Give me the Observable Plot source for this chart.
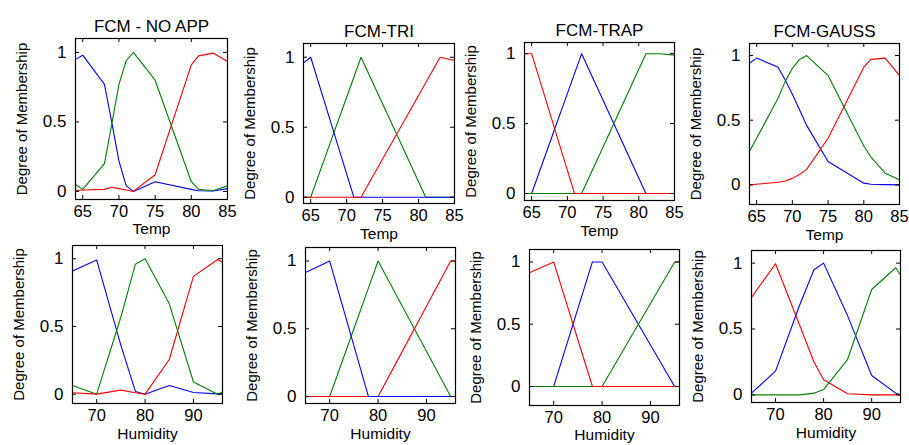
<!DOCTYPE html>
<html>
<head>
<meta charset="utf-8">
<script src="https://cdn.jsdelivr.net/npm/d3@7"></script>
<script src="https://cdn.jsdelivr.net/npm/@observablehq/plot@0.6"></script>
<style>
  html, body { margin: 0; padding: 0; background: #ffffff; }
  #chart { position: relative; width: 909px; height: 445px; overflow: hidden; background: #ffffff; }
  #chart svg { position: absolute; left: 0; top: 0; }
</style>
</head>
<body>
<div id="chart"></div>
<script>
// ---------- data ----------
const tempX = [64, 65, 68, 69, 70, 71, 72, 75, 80, 81, 83, 85];
const humX  = [65, 70, 75, 78, 80, 85, 90, 95, 96];
const tempTicks = [65, 70, 75, 80, 85];
const humTicks  = [70, 80, 90];
const yTicks    = [0, 0.5, 1];
const titles    = ["FCM - NO APP", "FCM-TRI", "FCM-TRAP", "FCM-GAUSS"];
const xLabels   = ["Temp", "Humidity"];
const yLabel    = "Degree of Membership";

// Temp – FCM no approximation
const tNoAppBlue  = [0.95, 0.98, 0.77, 0.50, 0.22, 0.04, 0.00, 0.07, 0.015, 0.005, 0.003, 0.02];
const tNoAppGreen = [0.05, 0.015, 0.20, 0.48, 0.77, 0.94, 1.00, 0.80, 0.07, 0.015, 0.005, 0.04];
const tNoAppRed   = [0.005, 0.01, 0.015, 0.03, 0.02, 0.01, 0.00, 0.12, 0.91, 0.975, 0.995, 0.935];
// Temp – triangular
const tTriBlue  = [0.96, 1, 0.5, 0.333, 0.167, 0, 0, 0, 0, 0, 0, 0];
const tTriGreen = [0, 0, 0.429, 0.571, 0.714, 0.857, 1, 0.667, 0.111, 0, 0, 0];
const tTriRed   = [0, 0, 0, 0, 0, 0, 0, 0.273, 0.727, 0.818, 1, 0.976];
// Temp – trapezoidal
const tTrapRed   = [1, 1, 0.5, 0.333, 0.167, 0, 0, 0, 0, 0, 0, 0];
const tTrapBlue  = [0, 0, 0.429, 0.571, 0.714, 0.857, 1, 0.667, 0.111, 0, 0, 0];
const tTrapGreen = [0, 0, 0, 0, 0, 0, 0, 0.333, 0.889, 1, 1, 0.99];
// Temp – gaussian
const tGaussBlue  = [0.94, 0.98, 0.91, 0.81, 0.70, 0.58, 0.46, 0.18, 0.013, 0.005, 0.002, 0.0];
const tGaussGreen = [0.26, 0.36, 0.67, 0.80, 0.90, 0.97, 1.00, 0.845, 0.30, 0.215, 0.09, 0.04];
const tGaussRed   = [0.0, 0.005, 0.02, 0.03, 0.05, 0.08, 0.12, 0.36, 0.91, 0.97, 0.98, 0.845];

// Humidity – FCM no approximation
const hNoAppBlue  = [0.91, 0.99, 0.36, 0.02, 0.0, 0.064, 0.012, 0.002, 0.0];
const hNoAppGreen = [0.064, 0.0, 0.57, 0.96, 1.0, 0.667, 0.09, 0.0, 0.015];
const hNoAppRed   = [0.01, 0.0, 0.03, 0.01, 0.0, 0.256, 0.87, 0.995, 0.975];
// Humidity – triangular
const hTriBlue  = [0.916, 1, 0.375, 0, 0, 0, 0, 0, 0];
const hTriGreen = [0, 0, 0.5, 0.8, 1, 0.667, 0.333, 0, 0];
const hTriRed   = [0, 0, 0, 0, 0, 0.333, 0.667, 1, 1];
// Humidity – trapezoidal
const hTrapRed   = [0.914, 1, 0.375, 0, 0, 0, 0, 0, 0];
const hTrapBlue  = [0, 0, 0.625, 1, 1, 0.667, 0.333, 0, 0];
const hTrapGreen = [0, 0, 0, 0, 0, 0.333, 0.667, 1, 1];
// Humidity – gaussian
const hGaussRed   = [0.74, 0.995, 0.53, 0.25, 0.114, 0.008, 0.0, 0.0, 0.0];
const hGaussBlue  = [0.013, 0.18, 0.68, 0.95, 1.0, 0.60, 0.147, 0.013, 0.0];
const hGaussGreen = [0.0, 0.0, 0.0, 0.013, 0.04, 0.27, 0.80, 0.965, 0.91];

// ---------- layout ----------
const W = 909, H = 445;
const BLUE = "#0000ff", GREEN = "#008000", RED = "#ff0000";
const FONT = "'Liberation Sans', Arial, Helvetica, sans-serif";

const panels = [
  {title: titles[0], xs: tempX, xTicks: tempTicks, xDomain: [64, 85], xLabel: xLabels[0], labelDy: 34, yDomain: [-0.058, 1.10], box: [75, 38, 227, 199],
   series: [[tNoAppBlue, BLUE], [tNoAppGreen, GREEN], [tNoAppRed, RED]]},
  {title: titles[1], xs: tempX, xTicks: tempTicks, xDomain: [64, 85], xLabel: xLabels[0], labelDy: 35, yDomain: [-0.045, 1.098], box: [303, 43, 454, 203],
   series: [[tTriGreen, GREEN], [tTriBlue, BLUE], [tTriRed, RED]]},
  {title: titles[2], xs: tempX, xTicks: tempTicks, xDomain: [64, 85], xLabel: xLabels[0], labelDy: 35, yDomain: [-0.05, 1.08], box: [524, 42, 674, 200],
   series: [[tTrapBlue, BLUE], [tTrapGreen, GREEN], [tTrapRed, RED]]},
  {title: titles[3], xs: tempX, xTicks: tempTicks, xDomain: [64, 85], xLabel: xLabels[0], labelDy: 35, yDomain: [-0.152, 1.093], box: [749, 43, 899, 204],
   series: [[tGaussBlue, BLUE], [tGaussGreen, GREEN], [tGaussRed, RED]]},
  {title: null, xs: humX, xTicks: humTicks, xDomain: [65, 96], xLabel: xLabels[1], labelDy: 35, yDomain: [-0.069, 1.098], box: [72, 245, 222, 403],
   series: [[hNoAppBlue, BLUE], [hNoAppGreen, GREEN], [hNoAppRed, RED]]},
  {title: null, xs: humX, xTicks: humTicks, xDomain: [65, 96], xLabel: xLabels[1], labelDy: 35, yDomain: [-0.052, 1.10], box: [305, 247, 455, 403],
   series: [[hTriGreen, GREEN], [hTriRed, RED], [hTriBlue, BLUE]]},
  {title: null, xs: humX, xTicks: humTicks, xDomain: [65, 96], xLabel: xLabels[1], labelDy: 34, yDomain: [-0.153, 1.10], box: [529, 249, 679, 405],
   series: [[hTrapBlue, BLUE], [hTrapGreen, GREEN], [hTrapRed, RED]]},
  {title: null, xs: humX, xTicks: humTicks, xDomain: [65, 96], xLabel: xLabels[1], labelDy: 35, yDomain: [-0.058, 1.096], box: [751, 250, 900, 402],
   series: [[hGaussRed, RED], [hGaussBlue, BLUE], [hGaussGreen, GREEN]]}
];

const chart = document.getElementById("chart");

for (const p of panels) {
  const [l, t, r, b] = p.box;
  const innerW = r - l, innerH = b - t;
  const tick = 4;
  const marks = [];
  for (const [vals, color] of p.series) {
    const data = p.xs.map((x, i) => ({x, y: vals[i]}));
    marks.push(Plot.line(data, {x: "x", y: "y", stroke: color, strokeWidth: 1.1}));
  }
  // inward ticks on all four sides
  marks.push(Plot.ruleX(p.xTicks, {x: d => d, insetTop: innerH - tick, stroke: "black"}));
  marks.push(Plot.ruleX(p.xTicks, {x: d => d, insetBottom: innerH - tick, stroke: "black"}));
  marks.push(Plot.ruleY(yTicks, {y: d => d, insetLeft: innerW - tick, stroke: "black"}));
  marks.push(Plot.ruleY(yTicks, {y: d => d, insetRight: innerW - tick, stroke: "black"}));
  marks.push(Plot.frame({stroke: "black", strokeWidth: 1.2}));
  marks.push(Plot.axisX(p.xTicks, {anchor: "bottom", tickSize: 0, tickPadding: 6, fontSize: 16.5, label: null, fill: "black"}));
  marks.push(Plot.axisY(yTicks, {anchor: "left", tickSize: 0, tickPadding: 9, fontSize: 17, label: null, fill: "black", tickFormat: d => String(d)}));
  marks.push(Plot.text([p.xLabel], {frameAnchor: "bottom", dy: p.labelDy, fontSize: 15.5, fill: "black", textAnchor: "middle", text: d => d}));
  marks.push(Plot.text([yLabel], {frameAnchor: "left", dx: -53, rotate: -90, fontSize: 15, fill: "black", textAnchor: "middle", text: d => d}));
  if (p.title) marks.push(Plot.text([p.title], {frameAnchor: "top", dy: -19, fontSize: 17, fill: "black", textAnchor: "middle", text: d => d}));

  const svg = Plot.plot({
    width: W, height: H,
    marginLeft: l, marginRight: W - r, marginTop: t, marginBottom: H - b,
    x: {domain: p.xDomain},
    y: {domain: p.yDomain},
    style: {background: "transparent", overflow: "visible", fontFamily: FONT, color: "black"},
    marks
  });
  chart.appendChild(svg);
}
</script>
</body>
</html>
